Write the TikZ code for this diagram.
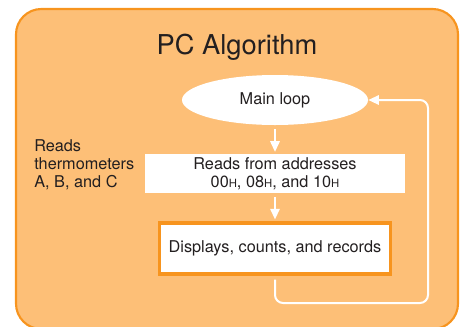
\documentclass[tikz,border=0pt]{standalone}
\usepackage{fontspec}
\setmainfont{TeX Gyre Heros}
\usetikzlibrary{shapes.geometric,arrows.meta}
\definecolor{panelfill}{HTML}{FDBF77}
\definecolor{paneledge}{HTML}{F7941E}
\definecolor{inktext}{HTML}{231F20}
\newcommand{\hexsub}{{\fontsize{8.5}{8.5}\selectfont H}}
\tikzset{
  flow/.style={white, line width=1.5pt, -{Triangle[width=7pt,length=8pt]}},
  stepbox/.style={fill=white, text=inktext, font=\fontsize{12.2}{13.5}\selectfont, align=center}
}
\begin{document}
\begin{tikzpicture}[x=0.75pt,y=-0.75pt]
        \useasboundingbox (0,0) rectangle (464,326);
        \clip (0,0) rectangle (464,326);
        % panel
        \draw[paneledge, fill=panelfill, line width=1.6pt, rounded corners=19pt] (16,9) rectangle (458,329);
        \node[text=inktext, font=\fontsize{20.5}{24}\selectfont] (title) at (237,47) {PC Algorithm};
        % steps
        \node[stepbox, ellipse, minimum width=139.5pt, minimum height=37.5pt] (mainloop) at (275,100) {Main loop};
        \node[stepbox, rectangle, minimum width=195pt, minimum height=29pt, inner sep=0pt] (reads) at (275,173.5) {Reads from addresses\\00\hexsub, 08\hexsub, and 10\hexsub};
        \node[stepbox, rectangle, draw=paneledge, line width=2.6pt, minimum width=173pt, minimum height=38pt] (displays) at (275,248.5) {Displays, counts, and records};
        \node[text=inktext, font=\fontsize{12.2}{13.5}\selectfont, align=left, anchor=north west, inner sep=0pt] (note) at (34,139) {Reads\\thermometers\\A, B, and C};
        % connectors
        \coordinate (loopright) at (428,303);
        \draw[flow, shorten <=3pt, shorten >=1.5pt] (mainloop) -- (reads);
        \draw[flow, shorten <=3pt, shorten >=1.5pt] (reads) -- (displays);
        \draw[flow, rounded corners=6pt, shorten <=3pt] (displays.south) |- (loopright) |- (mainloop.east);
\end{tikzpicture}
\end{document}
